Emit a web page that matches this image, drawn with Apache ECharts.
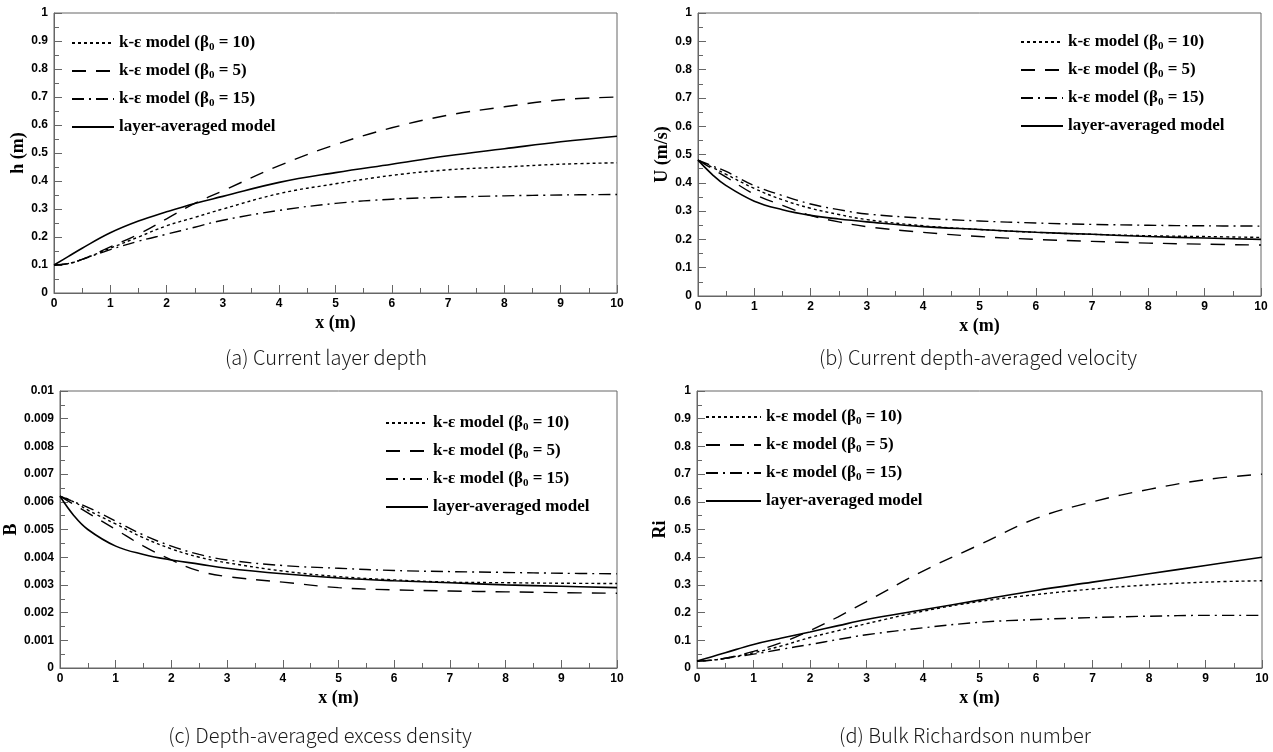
<!DOCTYPE html>
<html>
<head>
<meta charset="utf-8">
<script src="https://cdn.jsdelivr.net/npm/echarts@6/dist/echarts.min.js"></script>
<style>
html, body { margin: 0; padding: 0; background: #fff; }
#main { width: 1273px; height: 752px; }
</style>
</head>
<body>
<div id="main"></div>
<script>
var myChart = echarts.init(document.getElementById('main'));

// x positions (m) shared by all curves
var xs = [0, 0.25, 0.5, 1, 1.5, 2, 2.5, 3, 4, 5, 6, 7, 8, 9, 10];

var names = ['k-ε model (β0 = 10)', 'k-ε model (β0 = 5)', 'k-ε model (β0 = 15)', 'layer-averaged model'];

// (a) current layer depth h (m)
var hB10   = [0.1, 0.105, 0.12, 0.16, 0.20, 0.24, 0.27, 0.30, 0.355, 0.39, 0.42, 0.44, 0.45, 0.46, 0.465];
var hB5    = [0.1, 0.105, 0.12, 0.165, 0.21, 0.265, 0.32, 0.365, 0.455, 0.53, 0.59, 0.635, 0.665, 0.69, 0.70];
var hB15   = [0.1, 0.105, 0.12, 0.155, 0.185, 0.21, 0.235, 0.26, 0.295, 0.32, 0.335, 0.342, 0.347, 0.35, 0.352];
var hLayer = [0.1, 0.13, 0.16, 0.215, 0.257, 0.29, 0.32, 0.345, 0.395, 0.43, 0.46, 0.49, 0.515, 0.54, 0.56];

// (b) depth-averaged velocity U (m/s)
var uB10   = [0.48, 0.455, 0.43, 0.38, 0.34, 0.31, 0.288, 0.27, 0.248, 0.235, 0.225, 0.218, 0.213, 0.21, 0.207];
var uB5    = [0.48, 0.45, 0.42, 0.36, 0.32, 0.285, 0.262, 0.245, 0.225, 0.21, 0.2, 0.193, 0.187, 0.183, 0.18];
var uB15   = [0.48, 0.46, 0.44, 0.39, 0.355, 0.325, 0.305, 0.29, 0.275, 0.265, 0.258, 0.253, 0.25, 0.248, 0.247];
var uLayer = [0.48, 0.43, 0.39, 0.335, 0.305, 0.285, 0.272, 0.262, 0.245, 0.235, 0.225, 0.218, 0.21, 0.205, 0.2];

// (c) depth-averaged excess density B
var bB10   = [0.0062, 0.006, 0.0057, 0.0052, 0.0047, 0.0043, 0.004, 0.0038, 0.0035, 0.0033, 0.00318, 0.0031, 0.00308, 0.00306, 0.00305];
var bB5    = [0.0062, 0.0059, 0.0056, 0.005, 0.0044, 0.0039, 0.0035, 0.0033, 0.0031, 0.0029, 0.00282, 0.00278, 0.00275, 0.00272, 0.0027];
var bB15   = [0.0062, 0.006, 0.0058, 0.0053, 0.0048, 0.0044, 0.0041, 0.0039, 0.0037, 0.0036, 0.00352, 0.00348, 0.00345, 0.00342, 0.0034];
var bLayer = [0.0062, 0.0055, 0.005, 0.0044, 0.0041, 0.0039, 0.00375, 0.0036, 0.0034, 0.00325, 0.00315, 0.00308, 0.003, 0.00295, 0.0029];

// (d) bulk Richardson number Ri
var rB10   = [0.025, 0.028, 0.035, 0.055, 0.08, 0.11, 0.135, 0.16, 0.205, 0.24, 0.265, 0.285, 0.3, 0.31, 0.315];
var rB5    = [0.025, 0.028, 0.035, 0.06, 0.092, 0.135, 0.185, 0.24, 0.35, 0.445, 0.54, 0.6, 0.645, 0.68, 0.7];
var rB15   = [0.025, 0.028, 0.035, 0.05, 0.068, 0.085, 0.103, 0.12, 0.145, 0.165, 0.175, 0.182, 0.187, 0.19, 0.19];
var rLayer = [0.025, 0.04, 0.055, 0.085, 0.108, 0.13, 0.153, 0.175, 0.21, 0.245, 0.28, 0.31, 0.34, 0.37, 0.4];

var panels = [
    { grid: {left: 54, top: 13, width: 563, height: 280}, yName: 'h (m)', yGap: 25, yMax: 1, yInt: 0.1,
      data: [hB10, hB5, hB15, hLayer], legend: {left: 71, top: 33, w: 42},
      caption: '(a) Current layer depth', cx: 326, cy: 357 },
    { grid: {left: 698, top: 13, width: 563, height: 283}, yName: 'U (m/s)', yGap: 24, yMax: 1, yInt: 0.1,
      data: [uB10, uB5, uB15, uLayer], legend: {left: 1020, top: 32, w: 42},
      caption: '(b) Current depth-averaged velocity', cx: 978, cy: 357 },
    { grid: {left: 60, top: 391, width: 557, height: 277}, yName: 'B', yGap: 33, yMax: 0.01, yInt: 0.001,
      data: [bB10, bB5, bB15, bLayer], legend: {left: 385, top: 413, w: 42},
      caption: '(c) Depth-averaged excess density', cx: 320, cy: 735 },
    { grid: {left: 697, top: 391, width: 565, height: 277}, yName: 'Ri', yGap: 28, yMax: 1, yInt: 0.1,
      data: [rB10, rB5, rB15, rLayer], legend: {left: 705, top: 407, w: 55},
      caption: '(d) Bulk Richardson number', cx: 965, cy: 735 }
];

var dashes = [[3, 3], [14, 10], [12, 5, 2, 5], 'solid'];
var widths = [1.4, 1.4, 1.4, 1.6];

var axisColor = '#666';
var tickLabel = { color: '#000', fontFamily: 'Liberation Sans', fontWeight: 'bold', fontSize: 12 };
var nameStyle = { color: '#000', fontFamily: 'Liberation Serif', fontWeight: 'bold', fontSize: 18 };

var grids = [], xAxes = [], yAxes = [], series = [], legends = [], graphics = [];

panels.forEach(function (p, i) {
    grids.push(Object.assign({ show: true, borderColor: axisColor, borderWidth: 1 }, p.grid));
    xAxes.push({
        type: 'value', gridIndex: i, min: 0, max: 10, interval: 1,
        name: 'x (m)', nameLocation: 'middle', nameGap: 21, nameTextStyle: nameStyle,
        axisLine: { lineStyle: { color: axisColor } },
        axisTick: { inside: true, length: 8, lineStyle: { color: axisColor } },
        minorTick: { show: true, splitNumber: 2, length: 5, lineStyle: { color: axisColor } },
        axisLabel: Object.assign({ margin: 5 }, tickLabel),
        splitLine: { show: false }
    });
    yAxes.push({
        type: 'value', gridIndex: i, min: 0, max: p.yMax, interval: p.yInt,
        name: p.yName, nameLocation: 'middle', nameGap: p.yGap, nameTextStyle: nameStyle,
        axisLine: { show: true, lineStyle: { color: axisColor } },
        axisTick: { show: true, inside: true, length: 8, lineStyle: { color: axisColor } },
        minorTick: { show: true, splitNumber: 2, length: 5, lineStyle: { color: axisColor } },
        axisLabel: Object.assign({ margin: 6 }, tickLabel),
        splitLine: { show: false }
    });
    p.data.forEach(function (ys, k) {
        series.push({
            name: names[k], type: 'line', xAxisIndex: i, yAxisIndex: i,
            data: xs.map(function (x, j) { return [x, ys[j]]; }),
            smooth: 0.4, symbol: 'none', showSymbol: false, silent: true,
            lineStyle: { color: '#000', width: widths[k], type: dashes[k] }
        });
    });
    legends.push({
        data: names, orient: 'vertical', left: p.legend.left, top: p.legend.top, padding: 0,
        itemWidth: p.legend.w, itemHeight: 12, itemGap: 8, selectedMode: false,
        itemStyle: { opacity: 0 },
        formatter: function (n) { return n.replace('β0', 'β{s|0}'); },
        textStyle: {
            color: '#000', fontFamily: 'Liberation Serif', fontWeight: 'bold', fontSize: 17, lineHeight: 20,
            rich: { s: { fontFamily: 'Liberation Serif', fontWeight: 'bold', fontSize: 11, lineHeight: 20, padding: [8, 0, 0, 0] } }
        }
    });
    graphics.push({
        type: 'text', x: p.cx, y: p.cy, silent: true,
        style: { text: p.caption, fill: '#1a1a1a', font: '300 20px "Noto Sans CJK KR", "Noto Sans"', textAlign: 'center', textVerticalAlign: 'middle' }
    });
});

var option = {
    backgroundColor: '#fff',
    animation: false,
    grid: grids,
    xAxis: xAxes,
    yAxis: yAxes,
    legend: legends,
    series: series,
    graphic: graphics
};

myChart.setOption(option);
</script>
</body>
</html>
